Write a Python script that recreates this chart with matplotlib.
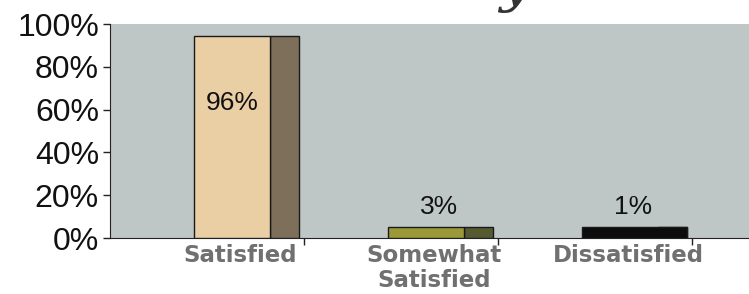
import matplotlib
matplotlib.use("Agg")
import matplotlib.pyplot as plt
from matplotlib.ticker import FixedLocator, PercentFormatter

categories = ["Satisfied", "Somewhat\nSatisfied", "Dissatisfied"]
label_values = ["96%", "3%", "1%"]
bar_heights = [94.5, 5.0, 5.0]
front_colors = ["#ebcfa4", "#9b9838", "#0c0c0c"]
side_colors = ["#7e6f5a", "#565a30", "#0c0c0c"]
yticks = [0, 20, 40, 60, 80, 100]

W, H = 749, 294
fig = plt.figure(figsize=(W / 100, H / 100), dpi=100)
fig.patch.set_facecolor("white")
ax = fig.add_axes([110 / W, (H - 238) / H, (W - 110) / W, (238 - 24) / H])
ax.set_facecolor("#bfc6c6")

x = list(range(len(categories)))
front_off, front_w, side_w = -0.068, 0.39, 0.152
for i, h in enumerate(bar_heights):
    ax.bar(i + front_off + front_w, h, width=side_w, align="edge", color=side_colors[i],
           edgecolor="#1a1a1a", linewidth=1.0, zorder=3)
    ax.bar(i + front_off, h, width=front_w + (0 if i < 2 else side_w), align="edge",
           color=front_colors[i], edgecolor="#1a1a1a", linewidth=1.0, zorder=3)

# value labels
ax.text(0 + front_off + front_w / 2, 63, label_values[0], ha="center", va="center",
        fontsize=19, color="#111111", family="Liberation Sans", zorder=4)
for i in (1, 2):
    ax.text(i + front_off + (front_w + side_w) / 2 - 0.01, 14.5, label_values[i], ha="center",
            va="center", fontsize=19, color="#111111", family="Liberation Sans", zorder=4)

ax.set_xlim(-0.503, 2.793)
ax.set_ylim(0, 100)

ax.yaxis.set_major_locator(FixedLocator(yticks))
ax.yaxis.set_major_formatter(PercentFormatter(decimals=0))
ax.tick_params(axis="y", direction="out", length=5, width=1, color="#222222",
               labelsize=23, pad=3)
for lab in ax.get_yticklabels():
    lab.set_family("Liberation Sans")
    lab.set_color("#111111")

ax.set_xticks([i + 0.17 for i in x])
ax.set_xticklabels(categories, fontsize=16.5, fontweight="bold", color="#707070",
                   family="DejaVu Sans", linespacing=1.15)
ax.tick_params(axis="x", which="major", length=0, pad=4)
ax.xaxis.set_minor_locator(FixedLocator([0.5, 1.5, 2.5]))
ax.tick_params(axis="x", which="minor", direction="out", length=5, width=1, color="#222222")

for s in ("top", "right"):
    ax.spines[s].set_visible(False)
ax.spines["left"].set_color("#222222")
ax.spines["bottom"].set_color("#222222")

# cut-off title remnant at the top (only its descender shows, as in the source)
fig.text(515 / W, 1.0 + 42 / H, "y", fontsize=40, style="italic", family="DejaVu Serif",
         color="#333333", ha="center", va="top")

fig.savefig("out.png", dpi=100)
